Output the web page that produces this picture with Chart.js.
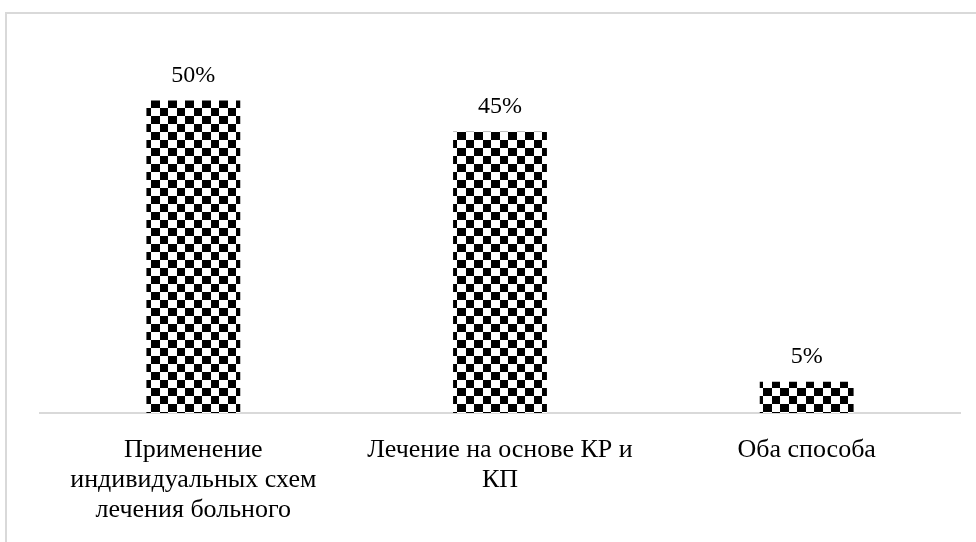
<!DOCTYPE html>
<html>
<head>
<meta charset="utf-8">
<script src="https://cdn.jsdelivr.net/npm/chart.js@4/dist/chart.umd.min.js"></script>
<style>
  html, body { margin: 0; padding: 0; background: #fff; }
  canvas { display: block; }
</style>
</head>
<body>
<canvas id="chart" width="976" height="542"></canvas>
<script>
// Treatment approaches and their share, %
const categories = [
  ["Применение", "индивидуальных схем", "лечения больного"],
  ["Лечение на основе КР и", "КП"],
  ["Оба способа"]
];
const shares = [50, 45, 5];
const axisMax = 60;

const FONT = "'Liberation Serif', 'Times New Roman', serif";

// Black-and-white checkerboard fill for the bars (17 x 16 px tile)
function checkerPattern() {
  const tile = document.createElement('canvas');
  tile.width = 17;
  tile.height = 16;
  const t = tile.getContext('2d');
  t.fillStyle = '#fff';
  t.fillRect(0, 0, 17, 16);
  t.fillStyle = '#000';
  t.fillRect(0, 0, 9, 8);
  t.fillRect(9, 8, 8, 8);
  const p = document.getElementById('chart').getContext('2d').createPattern(tile, 'repeat');
  if (p.setTransform) p.setTransform(new DOMMatrix().translate(15, 4));
  return p;
}

// Light outline of the chart frame (top and left edges)
const framePlugin = {
  id: 'frame',
  beforeDraw(chart) {
    const ctx = chart.ctx;
    ctx.save();
    ctx.fillStyle = '#fff';
    ctx.fillRect(0, 0, chart.width, chart.height);
    ctx.strokeStyle = '#d9d9d9';
    ctx.lineWidth = 2;
    ctx.beginPath();
    ctx.moveTo(6, chart.height);
    ctx.lineTo(6, 13);
    ctx.lineTo(chart.width, 13);
    ctx.stroke();
    ctx.restore();
  }
};

// Percentage labels above each bar
const valueLabels = {
  id: 'valueLabels',
  afterDatasetsDraw(chart) {
    const ctx = chart.ctx;
    const meta = chart.getDatasetMeta(0);
    ctx.save();
    ctx.font = `24px ${FONT}`;
    ctx.fillStyle = '#000';
    ctx.textAlign = 'center';
    ctx.textBaseline = 'middle';
    meta.data.forEach((bar, i) => {
      ctx.fillText(shares[i] + '%', bar.x, bar.y - 25);
    });
    ctx.restore();
  }
};

new Chart(document.getElementById('chart'), {
  type: 'bar',
  data: {
    labels: categories,
    datasets: [{
      data: shares,
      backgroundColor: checkerPattern(),
      borderWidth: 0,
      categoryPercentage: 1,
      barPercentage: 0.306
    }]
  },
  options: {
    responsive: false,
    animation: false,
    layout: { padding: { left: 40, right: 16, top: 38, bottom: 0 } },
    plugins: { legend: { display: false }, tooltip: { enabled: false } },
    scales: {
      y: { display: false, min: 0, max: axisMax },
      x: {
        grid: { display: false, drawTicks: false },
        border: { display: true, color: '#d9d9d9', width: 2 },
        ticks: {
          color: '#000',
          font: { family: FONT, size: 26, lineHeight: 1.15 },
          padding: 22,
          maxRotation: 0,
          autoSkip: false
        },
        afterFit(scale) { scale.height = 129; }
      }
    }
  },
  plugins: [framePlugin, valueLabels]
});
</script>
</body>
</html>
